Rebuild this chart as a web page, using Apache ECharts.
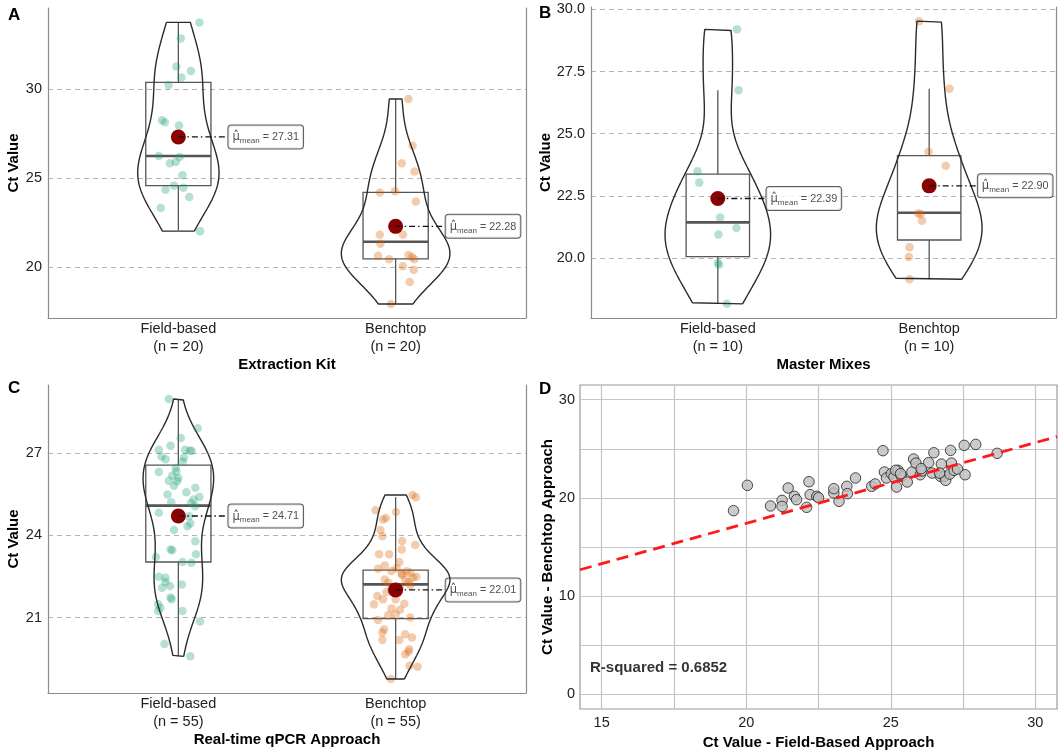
<!DOCTYPE html>
<html>
<head>
<meta charset="utf-8">
<script src="https://cdn.jsdelivr.net/npm/echarts@6/dist/echarts.min.js"></script>
<style>
  html, body { margin: 0; padding: 0; background: #fff; }
  #main { width: 1058px; height: 751px; }
</style>
</head>
<body>
<div id="main"></div>
<script>
const FONT = '"Liberation Sans", Arial, sans-serif';
const groups = ['Field-based', 'Benchtop'];

// points are [jitter offset from the group, Ct value]
const kitField = [[0.097,33.76],[0.011,32.86],[-0.009,31.28],[0.058,31.03],[0.014,30.66],[-0.045,30.23],[-0.075,28.25],[-0.062,28.14],[0.003,27.95],[-0.09,26.24],[0.006,26.18],[-0.012,25.90],[-0.039,25.83],[0.019,25.15],[-0.02,24.57],[0.023,24.45],[-0.059,24.34],[0.05,23.93],[-0.081,23.31],[0.1,22.01]];
const kitBench = [[0.059,29.45],[0.078,26.82],[0.028,25.83],[0.087,25.36],[-0.073,24.19],[-0.003,24.25],[0.093,23.68],[-0.073,21.80],[-0.07,21.30],[0.034,21.80],[-0.081,20.62],[-0.03,20.43],[0.059,20.66],[0.075,20.55],[0.086,20.43],[0.033,20.04],[0.083,19.83],[0.065,19.14],[-0.022,17.91],[0.01,22.30]];
const kitMeans = [27.31, 22.28];
// [lower whisker, Q1, median, Q3, upper whisker]
const kitBoxes = [[22.05,24.57,26.24,30.38,33.78],[17.91,20.45,21.41,24.19,29.45]];
const kitTicks = [20, 25, 30];

const mixField = [[0.091,29.20],[0.098,26.75],[-0.096,23.49],[-0.088,23.03],[0.011,21.63],[0.088,21.20],[0.003,20.94],[0.006,19.72],[0.043,18.15],[0.0,19.79]];
const mixBench = [[-0.048,29.53],[0.096,26.81],[-0.003,24.27],[0.078,23.71],[-0.053,21.79],[-0.04,21.77],[-0.034,21.50],[-0.093,20.43],[-0.096,20.04],[-0.093,19.14]];
const mixMeans = [22.39, 22.90];
const mixBoxes = [[18.15,20.05,21.43,23.37,26.75],[19.14,20.72,21.82,24.12,26.81]];
const mixTicks = [20, 22.5, 25, 27.5, 30];

const qpcrField = [[-0.044,28.99],[0.089,27.92],[0.011,27.56],[-0.036,27.28],[-0.09,27.13],[0.031,27.13],[0.053,27.10],[0.061,27.10],[-0.078,26.89],[-0.059,26.79],[0.026,26.85],[-0.012,26.47],[-0.009,26.34],[-0.09,26.32],[-0.028,26.19],[-0.044,26.00],[-0.005,25.98],[-0.02,25.82],[0.078,25.74],[0.037,25.58],[0.097,25.41],[0.07,25.31],[-0.033,25.21],[0.078,25.07],[0.058,25.19],[-0.09,24.83],[0.05,24.70],[0.055,24.44],[0.042,24.34],[0.078,23.79],[-0.036,23.49],[-0.028,23.46],[0.081,23.31],[-0.103,23.21],[0.019,23.03],[-0.09,22.49],[-0.059,22.45],[-0.039,22.15],[-0.075,22.09],[0.016,22.21],[-0.036,21.73],[-0.031,21.67],[-0.093,21.48],[-0.083,21.36],[-0.093,21.24],[0.019,21.24],[0.1,20.85],[-0.064,20.03],[0.055,19.58],[0.02,26.70],[0.0,26.10],[-0.05,25.50],[-0.02,24.20],[0.06,23.00],[-0.06,22.30]];
const qpcrBench = [[0.078,25.48],[0.093,25.40],[-0.092,24.92],[0.002,24.86],[-0.045,24.64],[-0.058,24.58],[-0.061,23.97],[0.09,23.65],[-0.03,23.31],[0.028,23.49],[-0.076,23.31],[0.017,23.03],[-0.081,22.78],[0.005,22.80],[0.028,22.61],[0.051,22.69],[0.067,22.64],[0.079,22.46],[0.095,22.49],[-0.05,22.39],[-0.034,22.27],[0.044,22.37],[0.067,22.18],[-0.042,21.93],[-0.084,21.79],[-0.058,21.67],[0,21.67],[-0.1,21.48],[-0.019,21.33],[0.02,21.28],[0,21.12],[-0.034,21.08],[0.067,21.00],[-0.081,20.91],[-0.053,20.57],[-0.061,20.45],[0.044,20.39],[0.075,20.27],[0.017,20.18],[-0.061,20.18],[0.062,19.84],[0.044,19.66],[0.059,19.75],[0.064,19.24],[0.101,19.20],[-0.022,18.75],[0.03,22.55],[-0.02,22.70],[0.06,22.30],[-0.02,22.00],[0.02,22.10],[0.03,23.80],[-0.07,24.20],[0.04,21.50],[-0.05,22.90]];
const qpcrMeans = [24.71, 22.01];
const qpcrBoxes = [[19.58,23.03,25.09,26.57,28.99],[18.75,20.96,22.21,22.73,25.40]];
const qpcrTicks = [21, 24, 27];

// panel D: [field-based Ct, benchtop Ct]
const paired = [[19.56,18.70],[20.04,21.28],[20.84,19.18],[21.24,19.75],[21.24,19.14],[21.45,21.01],[21.67,20.16],[21.74,19.82],[22.17,21.65],[22.21,20.33],[22.09,19.04],[22.44,20.16],[22.50,20.02],[23.03,20.50],[23.03,20.94],[23.21,19.65],[23.48,21.18],[23.50,20.43],[23.78,22.03],[24.34,21.18],[24.46,21.42],[24.73,24.81],[24.78,22.64],[24.85,22.03],[25.02,22.47],[25.11,22.13],[25.25,22.81],[25.20,21.11],[25.37,22.20],[25.57,21.62],[25.73,22.64],[25.79,23.96],[25.87,23.55],[26.02,22.36],[26.08,22.74],[26.31,23.59],[26.43,22.53],[26.49,24.60],[26.72,22.20],[26.75,23.45],[26.86,22.20],[26.90,21.79],[27.07,24.84],[27.10,23.55],[27.04,22.43],[27.19,22.81],[27.31,22.94],[27.54,25.35],[27.57,22.36],[27.94,25.45],[28.68,24.54],[26.69,22.53],[26.05,22.98],[25.17,22.81],[25.34,22.47]];
const fitCoef = [0.97, 0.822]; // intercept, slope
const rSquared = 0.6852;
const scatterXTicks = [15, 20, 25, 30];
const scatterXGrid = [15, 17.5, 20, 22.5, 25, 27.5, 30];
const scatterYTicks = [0, 10, 20, 30];
const scatterYGrid = [0, 5, 10, 15, 20, 25, 30];

const panels = [
  { letter: 'A', title: 'Extraction Kit', pts: [kitField, kitBench], means: kitMeans, boxes: kitBoxes, ticks: kitTicks, range: [17.12, 34.57], dec: 0,
    grid: { left: 48, top: 8, width: 478, height: 310 }, letterPos: { left: 8, top: 7 } },
  { letter: 'B', title: 'Master Mixes', pts: [mixField, mixBench], means: mixMeans, boxes: mixBoxes, ticks: mixTicks, range: [17.58, 30.10], dec: 1,
    grid: { left: 591, top: 7, width: 465, height: 311 }, letterPos: { left: 539, top: 5 } },
  { letter: 'C', title: 'Real-time qPCR Approach', pts: [qpcrField, qpcrBench], means: qpcrMeans, boxes: qpcrBoxes, ticks: qpcrTicks, range: [18.24, 29.50], dec: 0,
    grid: { left: 48, top: 385, width: 478, height: 308 }, letterPos: { left: 8, top: 380 } }
];

const GREEN = 'rgba(27,158,119,0.4)';
const ORANGE = 'rgba(217,95,2,0.4)';
const AXIS_GREY = '#8c8c8c';
const CLEAR = 'rgba(0,0,0,0)';

function kde(vals, n) {
  const m = vals.length;
  const mean = vals.reduce((a, b) => a + b, 0) / m;
  const sd = Math.sqrt(vals.reduce((a, b) => a + (b - mean) ** 2, 0) / (m - 1));
  const s = vals.slice().sort((a, b) => a - b);
  const q = p => { const h = (m - 1) * p, i = Math.floor(h); return s[i] + (h - i) * ((i + 1 < m ? s[i + 1] : s[i]) - s[i]); };
  const bw = 0.9 * Math.min(sd, (q(0.75) - q(0.25)) / 1.34) * Math.pow(m, -0.2);
  const out = [];
  for (let i = 0; i < n; i++) {
    const y = s[0] + (s[m - 1] - s[0]) * i / (n - 1);
    let d = 0;
    for (const v of vals) d += Math.exp(-0.5 * ((y - v) / bw) ** 2);
    out.push([y, d / (m * bw * Math.sqrt(2 * Math.PI))]);
  }
  return out;
}

function renderBox(params, api) {
  const x = api.value(0);
  const lo = api.coord([x - 0.15, api.value(2)]);
  const hi = api.coord([x + 0.15, api.value(4)]);
  const med = api.coord([x, api.value(3)]);
  const wl = api.coord([x, api.value(1)]);
  const wh = api.coord([x, api.value(5)]);
  const st = { stroke: '#555', lineWidth: 1.3, fill: null };
  return {
    type: 'group',
    children: [
      { type: 'line', shape: { x1: wl[0], y1: wl[1], x2: wl[0], y2: lo[1] }, style: st },
      { type: 'line', shape: { x1: wh[0], y1: hi[1], x2: wh[0], y2: wh[1] }, style: st },
      { type: 'rect', shape: { x: lo[0], y: hi[1], width: hi[0] - lo[0], height: lo[1] - hi[1] }, style: { stroke: '#555', lineWidth: 1.3, fill: CLEAR } },
      { type: 'line', shape: { x1: lo[0], y1: med[1], x2: hi[0], y2: med[1] }, style: { stroke: '#555', lineWidth: 2.6 } }
    ]
  };
}

const titles = [], grids = [], xAxes = [], yAxes = [], series = [];

panels.forEach((p, k) => {
  titles.push({ text: p.letter, left: p.letterPos.left, top: p.letterPos.top, padding: 0,
    textStyle: { fontFamily: FONT, fontSize: 17, fontWeight: 'bold', color: '#000' } });
  grids.push(p.grid);
  const n = p.pts[0].length;
  xAxes.push({
    gridIndex: k, type: 'value', min: 0.4, max: 2.6,
    name: p.title, nameLocation: 'middle', nameGap: 39,
    nameTextStyle: { fontFamily: FONT, fontSize: 15, fontWeight: 'bold', color: '#000' },
    axisLine: { show: true, onZero: false, lineStyle: { color: AXIS_GREY, width: 1.2 } },
    axisTick: { show: false, customValues: [1, 2] },
    splitLine: { show: false },
    axisLabel: { customValues: [1, 2], margin: 2, fontFamily: FONT, fontSize: 14.5, lineHeight: 18, color: '#222',
      formatter: v => groups[Math.round(v) - 1] + '\n(n = ' + n + ')' }
  });
  const yi = yAxes.length;
  yAxes.push({
    gridIndex: k, type: 'value', min: p.range[0], max: p.range[1],
    name: 'Ct Value', nameLocation: 'middle', nameGap: 27,
    nameTextStyle: { fontFamily: FONT, fontSize: 15, fontWeight: 'bold', color: '#000' },
    axisLine: { show: true, onZero: false, lineStyle: { color: AXIS_GREY, width: 1.2 } },
    axisTick: { show: false, customValues: p.ticks },
    axisLabel: { customValues: p.ticks, margin: 6, fontFamily: FONT, fontSize: 14.5, color: '#222',
      formatter: v => v.toFixed(p.dec) },
    splitLine: { show: true, lineStyle: { color: '#b4b4b4', width: 1, type: [5, 4] } }
  });
  yAxes.push({
    gridIndex: k, type: 'value', position: 'right', min: p.range[0], max: p.range[1],
    axisLine: { show: true, onZero: false, lineStyle: { color: AXIS_GREY, width: 1.2 } },
    axisTick: { show: false }, axisLabel: { show: false }, splitLine: { show: false }
  });
  const ax = { xAxisIndex: k, yAxisIndex: yi };

  // jittered points
  p.pts.forEach((pts, g) => {
    series.push(Object.assign({
      type: 'scatter', symbolSize: 8.5, silent: true,
      itemStyle: { color: g === 0 ? GREEN : ORANGE },
      data: pts.map(d => [g + 1 + d[0], d[1]])
    }, ax));
  });

  // boxes
  series.push(Object.assign({
    type: 'custom', renderItem: renderBox, silent: true,
    data: p.boxes.map((b, g) => [g + 1].concat(b))
  }, ax));

  // violins, area-scaled to the widest density in the panel
  const dens = p.pts.map(pts => kde(pts.map(d => d[1]), 256));
  const maxD = Math.max(...dens.map(ds => Math.max(...ds.map(d => d[1]))));
  dens.forEach((ds, g) => {
    const c = g + 1;
    const right = ds.map(d => [c + 0.25 * d[1] / maxD, d[0]]);
    const left = ds.slice().reverse().map(d => [c - 0.25 * d[1] / maxD, d[0]]);
    const poly = right.concat(left, [right[0]]);
    series.push(Object.assign({
      type: 'line', symbol: 'none', silent: true, smooth: false,
      lineStyle: { color: '#2b2b2b', width: 1.4 },
      data: poly
    }, ax));
  });

  // connectors to mean labels
  p.means.forEach((m, g) => {
    series.push(Object.assign({
      type: 'line', symbol: 'none', silent: true,
      lineStyle: { color: '#111', width: 1.3, type: [6, 3, 1.5, 3] },
      data: [[g + 1, m], [g + 1.228, m]]
    }, ax));
  });

  // means
  series.push(Object.assign({
    type: 'scatter', symbolSize: 15, silent: true,
    itemStyle: { color: '#8B0000', opacity: 1 },
    data: p.means.map((m, g) => [g + 1, m])
  }, ax));

  // mean labels
  series.push(Object.assign({
    type: 'scatter', symbolSize: 1, silent: true,
    itemStyle: { color: CLEAR },
    data: p.means.map((m, g) => [g + 1.228, m]),
    label: {
      show: true, position: 'right', distance: 0,
      backgroundColor: '#fff', borderColor: '#333', borderWidth: 1, borderRadius: 3,
      padding: [3, 4, 2, 4],
      formatter: d => '{mu|\u03bc\u0302}{sub|mean}{eq| = ' + d.value[1].toFixed(2) + '}',
      rich: {
        mu: { fontFamily: '"DejaVu Sans", sans-serif', fontSize: 11.5, color: '#222', lineHeight: 18 },
        sub: { fontFamily: FONT, fontSize: 8, color: '#222', padding: [7, 0, 0, 0], lineHeight: 18 },
        eq: { fontFamily: FONT, fontSize: 10.8, color: '#222', lineHeight: 18 }
      }
    }
  }, ax));
});

// panel D
const dk = 3;
titles.push({ text: 'D', left: 539, top: 381, padding: 0,
  textStyle: { fontFamily: FONT, fontSize: 17, fontWeight: 'bold', color: '#000' } });
grids.push({ left: 580, top: 385, width: 477, height: 324, show: true, borderColor: '#9a9a9a', borderWidth: 1.2 });
const xMin = 14.25, xMax = 30.75;
xAxes.push({
  gridIndex: dk, type: 'value', min: xMin, max: xMax,
  name: 'Ct Value - Field-Based Approach', nameLocation: 'middle', nameGap: 26,
  nameTextStyle: { fontFamily: FONT, fontSize: 15, fontWeight: 'bold', color: '#000' },
  axisLine: { show: false, onZero: false },
  axisTick: { show: false, customValues: scatterXGrid },
  axisLabel: { customValues: scatterXTicks, margin: 6, fontFamily: FONT, fontSize: 14.5, color: '#222' },
  splitLine: { show: true, lineStyle: { color: '#c4c4c4', width: 1.2 } }
});
const dyi = yAxes.length;
yAxes.push({
  gridIndex: dk, type: 'value', min: -1.5, max: 31.5,
  name: 'Ct Value - Benchtop Approach', nameLocation: 'middle', nameGap: 24,
  nameTextStyle: { fontFamily: FONT, fontSize: 15, fontWeight: 'bold', color: '#000' },
  axisLine: { show: false, onZero: false },
  axisTick: { show: false, customValues: scatterYGrid },
  axisLabel: { customValues: scatterYTicks, margin: 5, fontFamily: FONT, fontSize: 14.5, color: '#222' },
  splitLine: { show: true, lineStyle: { color: '#c4c4c4', width: 1.2 } }
});
series.push({
  type: 'line', xAxisIndex: dk, yAxisIndex: dyi, symbol: 'none', silent: true,
  lineStyle: { color: '#ff1a1a', width: 2.8, type: [12, 7] },
  data: [[xMin, fitCoef[0] + fitCoef[1] * xMin], [xMax, fitCoef[0] + fitCoef[1] * xMax]]
});
series.push({
  type: 'scatter', xAxisIndex: dk, yAxisIndex: dyi, symbolSize: 10.5, silent: true,
  itemStyle: { color: '#bebebe', borderColor: '#222', borderWidth: 1 },
  data: paired
});
series.push({
  type: 'scatter', xAxisIndex: dk, yAxisIndex: dyi, symbolSize: 1, silent: true,
  itemStyle: { color: CLEAR },
  data: [[14.58, 2.72]],
  label: { show: true, position: 'right', distance: 0, formatter: 'R-squared = ' + rSquared,
    fontFamily: FONT, fontSize: 15, fontWeight: 'bold', color: '#000' }
});

const chart = echarts.init(document.getElementById('main'));
chart.setOption({
  animation: false,
  backgroundColor: '#fff',
  textStyle: { fontFamily: FONT },
  title: titles,
  grid: grids,
  xAxis: xAxes,
  yAxis: yAxes,
  series: series
});
</script>
</body>
</html>
